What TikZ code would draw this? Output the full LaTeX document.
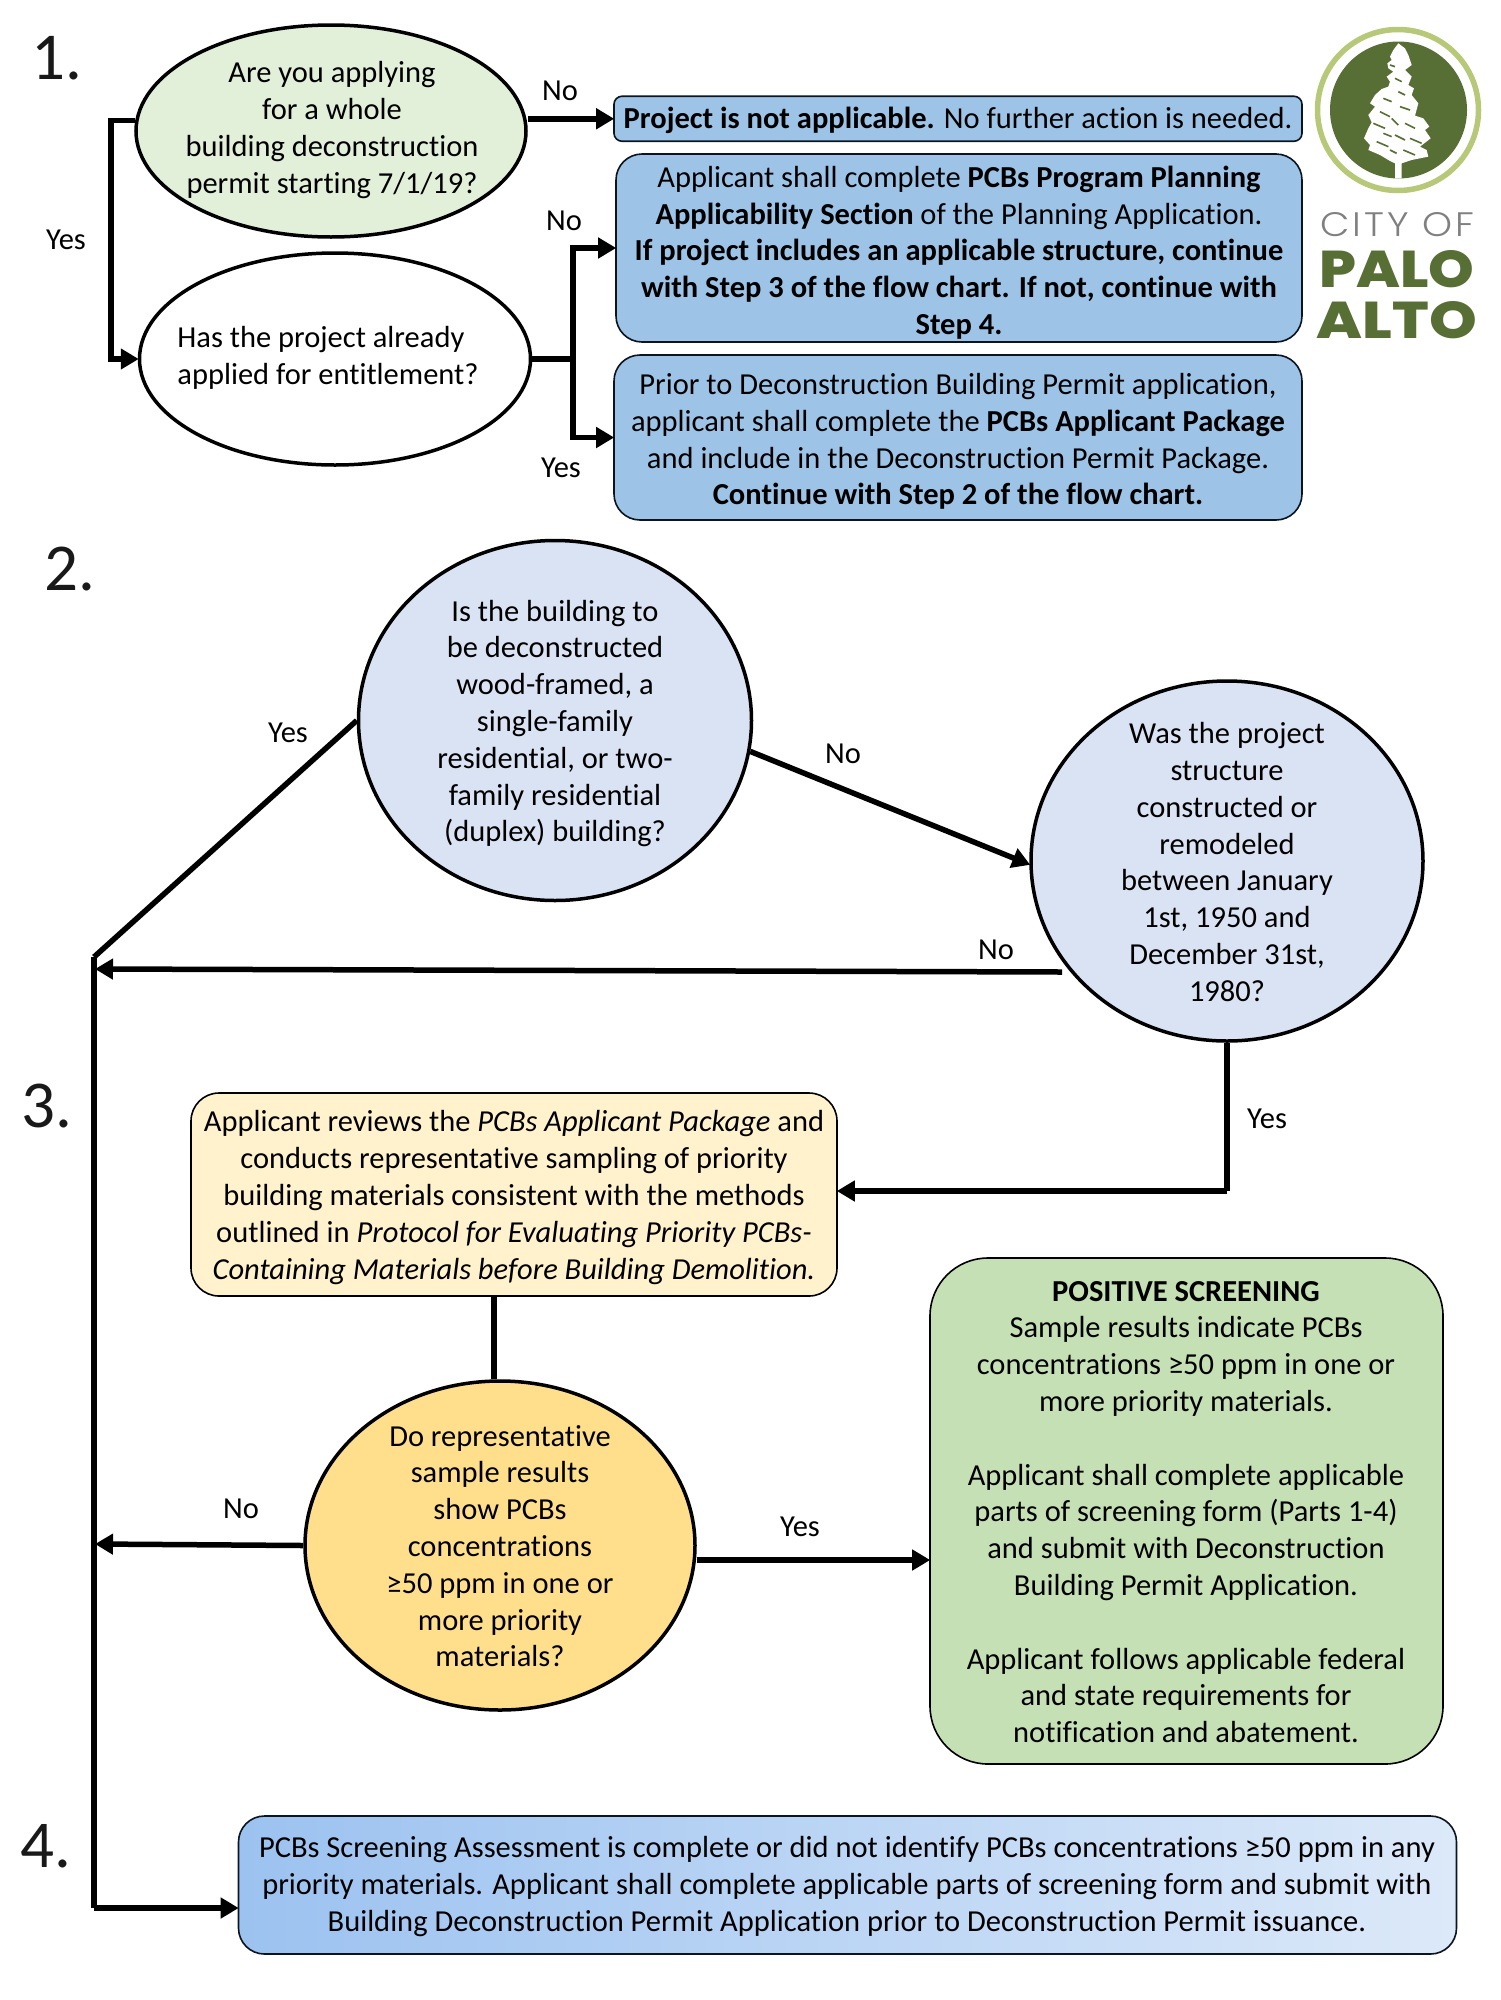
\documentclass[tikz,border=0pt]{standalone}
\usepackage{fontspec}
\usepackage{graphicx}
\setmainfont[Ligatures=NoCommon]{Carlito}
\newfontfamily\logolightfont[LetterSpace=8]{Poppins Light}
\newfontfamily\logoheavyfont{Poppins ExtraBold}
\usetikzlibrary{arrows.meta,shapes.geometric,calc}
\definecolor{lgreen}{HTML}{E2EFD9}
\definecolor{mblue}{HTML}{9DC3E6}
\definecolor{lblue}{HTML}{DAE3F3}
\definecolor{lyellow}{HTML}{FFF2CC}
\definecolor{myellow}{HTML}{FFDF8C}
\definecolor{mgreen}{HTML}{C5E0B4}
\definecolor{gradl}{HTML}{9CC2F0}
\definecolor{gradr}{HTML}{DCE9F9}
\definecolor{logodark}{HTML}{576F35}
\definecolor{logolight}{HTML}{B7C878}
\definecolor{outline}{HTML}{0C1420}
\tikzset{
  txt/.style={font=\fontsize{30.5}{36.8}\selectfont,align=center,inner sep=0pt,text=black},
  lab/.style={font=\fontsize{30.5}{36}\selectfont,inner sep=0pt,text=black},
  num/.style={font=\fontsize{67}{72}\selectfont,inner sep=0pt,anchor=base west,text=black!90},
  oval/.style={ellipse,draw=black,line width=3.5pt,inner sep=0pt},
  bbox/.style={rectangle,draw=outline,line width=1.6pt,fill=mblue,inner sep=0pt},
  conn/.style={line width=5.5pt,draw=black,-{Triangle[length=18pt,width=20pt,inset=0pt]},shorten >=-1pt},
  plain/.style={line width=5.5pt,draw=black,line cap=butt},
}
\begin{document}
\begin{tikzpicture}[x=1pt,y=-1pt]
\useasboundingbox (0,0) rectangle (1500,2000);
\fill[white] (0,0) rectangle (1500,2000);

% step numbers
\node[num] (n1) at (31,79) {1.};
\node[num] (n2) at (44,590) {2.};
\node[num] (n3) at (21,1127) {3.};
\node[num] (n4) at (20,1867) {4.};

% section 1
\node[oval,fill=lgreen,minimum width=390pt,minimum height=212pt] (e1) at (331,131) {};
\node[txt] (e1t) at (332,130) {Are you applying\\for a whole\\building deconstruction\\permit starting 7/1/19?};
\node[oval,fill=white,minimum width=391pt,minimum height=212pt] (e2) at (335,359) {};
\node[txt,align=left] (e2t) at (328,357.5) {Has the project already\\applied for entitlement?};

\node[bbox,rounded corners=8pt,minimum width=688pt,minimum height=45pt,font=\fontsize{30.5}{36.8}\selectfont,text height=26pt,text depth=7pt] (b1) at (958,118.75)
  {\textbf{Project is not applicable.} No further action is needed.};
\node[bbox,rounded corners=26pt,minimum width=686pt,minimum height=188pt] (b2) at (959,248) {};
\node[txt] (b2t) at (959,252.5) {Applicant shall complete \textbf{PCBs Program Planning}\\\textbf{Applicability Section} of the Planning Application.\\\textbf{If project includes an applicable structure, continue}\\\textbf{with Step 3 of the flow chart. If not, continue with}\\\textbf{Step 4.}};
\node[bbox,rounded corners=26pt,minimum width=688pt,minimum height=165pt] (b3) at (958,437.5) {};
\node[txt] (b3t) at (958,441.5) {Prior to Deconstruction Building Permit application,\\applicant shall complete the \textbf{PCBs Applicant Package}\\and include in the Deconstruction Permit Package.\\\textbf{Continue with Step 2 of the flow chart.}};

% section 2
\node[oval,fill=lblue,minimum width=393pt,minimum height=360pt] (c1) at (555,720.5) {};
\node[txt] (c1t) at (555,723.5) {Is the building to\\be deconstructed\\wood-framed, a\\single-family\\residential, or two-\\family residential\\(duplex) building?};
\node[oval,fill=lblue,minimum width=392pt,minimum height=360pt] (c2) at (1227,861) {};
\node[txt] (c2t) at (1227,862) {Was the project\\structure\\constructed or\\remodeled\\between January\\1st, 1950 and\\December 31st,\\1980?};

% section 3
\node[rectangle,draw=black,line width=1.6pt,fill=lyellow,rounded corners=28pt,minimum width=646pt,minimum height=203pt,inner sep=0pt] (y1) at (514,1194.5) {};
\node[txt] (y1t) at (514,1197.5) {Applicant reviews the \textit{PCBs Applicant Package} and\\conducts representative sampling of priority\\building materials consistent with the methods\\outlined in \textit{Protocol for Evaluating Priority PCBs-}\\\textit{Containing Materials before Building Demolition.}};
\node[oval,fill=myellow,minimum width=390pt,minimum height=329pt] (y2) at (500,1545.5) {};
\node[txt] (y2t) at (500,1546) {Do representative\\sample results\\show PCBs\\concentrations\\≥50 ppm in one or\\more priority\\materials?};
\node[rectangle,draw=black,line width=1.6pt,fill=mgreen,rounded corners=58pt,minimum width=513pt,minimum height=506pt,inner sep=0pt] (g1) at (1186.5,1511) {};
\node[txt] (g1t) at (1186,1512) {\textbf{POSITIVE SCREENING}\\Sample results indicate PCBs\\concentrations ≥50 ppm in one or\\more priority materials.\\~\\Applicant shall complete applicable\\parts of screening form (Parts 1-4)\\and submit with Deconstruction\\Building Permit Application.\\~\\Applicant follows applicable federal\\and state requirements for\\notification and abatement.};

% section 4
\node[bbox,rounded corners=26pt,minimum width=1218pt,minimum height=138pt,left color=gradl,right color=gradr] (f1) at (847.5,1885) {};
\node[txt] (f1t) at (847,1886.5) {PCBs Screening Assessment is complete or did not identify PCBs concentrations ≥50 ppm in any\\priority materials. Applicant shall complete applicable parts of screening form and submit with\\Building Deconstruction Permit Application prior to Deconstruction Permit issuance.};

% connector helpers
\coordinate (busA) at (111,240);
\coordinate (busB) at (573,300);
\coordinate (trunkTop) at (94,957);
\coordinate (trunkBot) at (94,1908);
\coordinate (elbow) at (1227,1191);
\coordinate (t2) at (96,969);
\coordinate (t3) at (96,1544);
\coordinate (c2out) at (1062,972);
\coordinate (gy) at (800,1560);

% connectors section 1
\draw[conn] (e1.177) -| (busA) |- (e2.west);
\draw[conn] (e1.east |- b1.west) -- (b1.west);
\draw[plain] (e2.east) -- (busB |- e2.east);
\draw[conn] (busB |- e2.east) |- (b2.west);
\draw[conn] (busB |- e2.east) |- (b3.west);

% connectors section 2/3
\draw[plain] (c1.west) -- (trunkTop);
\draw[conn] (c1.-9) -- (c2.181);
\draw[conn] (c2out) -- (t2);
\draw[plain,line cap=square] (c2.south) -- (elbow);
\draw[conn] (elbow) -- (y1.east |- elbow);
\draw[plain] (y1.south -| y2.92) -- (y2.92);
\draw[conn] (y2.west) -- (t3);
\draw[conn] (y2.east |- gy) -- (g1.west |- gy);
\draw[plain,line cap=square] (trunkTop) -- (trunkBot);
\draw[conn] (trunkBot) -- (f1.west |- trunkBot);

% labels
\node[lab] (l1) at (560,90.5) {No};
\node[lab] (l2) at (66,240) {Yes};
\node[lab] (l3) at (564,221) {No};
\node[lab] (l4) at (561,468) {Yes};
\node[lab] (l5) at (288,733) {Yes};
\node[lab] (l6) at (843,754) {No};
\node[lab] (l7) at (996,950) {No};
\node[lab] (l8) at (1267,1119) {Yes};
\node[lab] (l9) at (241,1509) {No};
\node[lab] (l10) at (800,1527) {Yes};

% logo
\draw[logolight,line width=5.5pt] (1398,110) circle (80.5pt);
\fill[logodark] (1398.5,110) circle (68.5pt);
\begin{scope}[shift={(1340,35)},x=0.3333pt,y=-0.3333pt]
  \fill[white] (175,25)--(160,45)--(150,65)--(155,75)--(142,85)--(145,100)--(160,110)--(140,125)--(150,140)--(145,155)--(125,162)--(105,180)--(90,205)--(105,215)--(85,240)--(95,262)--(85,280)--(72,310)--(90,330)--(85,345)--(120,360)--(150,378)--(165,385)--(165,430)--(185,430)--(185,385)--(215,375)--(265,365)--(260,345)--(240,335)--(272,310)--(255,285)--(268,275)--(250,250)--(225,242)--(235,205)--(215,180)--(222,160)--(205,150)--(215,125)--(195,105)--(215,90)--(205,60)--(195,40)--cycle;
  \foreach \a/\b/\c/\d in {150/90/165/95, 165/130/185/140, 130/190/155/200, 175/170/195/180, 120/230/150/245, 180/215/210/225, 100/265/135/280, 155/250/175/270, 195/265/225/280, 110/320/145/335, 165/300/195/315, 210/310/245/325, 130/295/155/305, 190/345/225/360, 150/345/170/355}
    \draw[logodark,line width=1.6pt] (\a,\b) -- (\c,\d);
\end{scope}
\node[inner sep=0pt,text=black!50] (city) at (1397.5,225) {\resizebox{154pt}{24pt}{\logolightfont CITY OF}};
\node[inner sep=0pt,text=logodark] (palo) at (1397,269) {\resizebox{155pt}{37pt}{\logoheavyfont PALO}};
\node[inner sep=0pt,text=logodark] (alto) at (1397,320) {\resizebox{160pt}{37pt}{\logoheavyfont ALTO}};
\end{tikzpicture}
\end{document}
